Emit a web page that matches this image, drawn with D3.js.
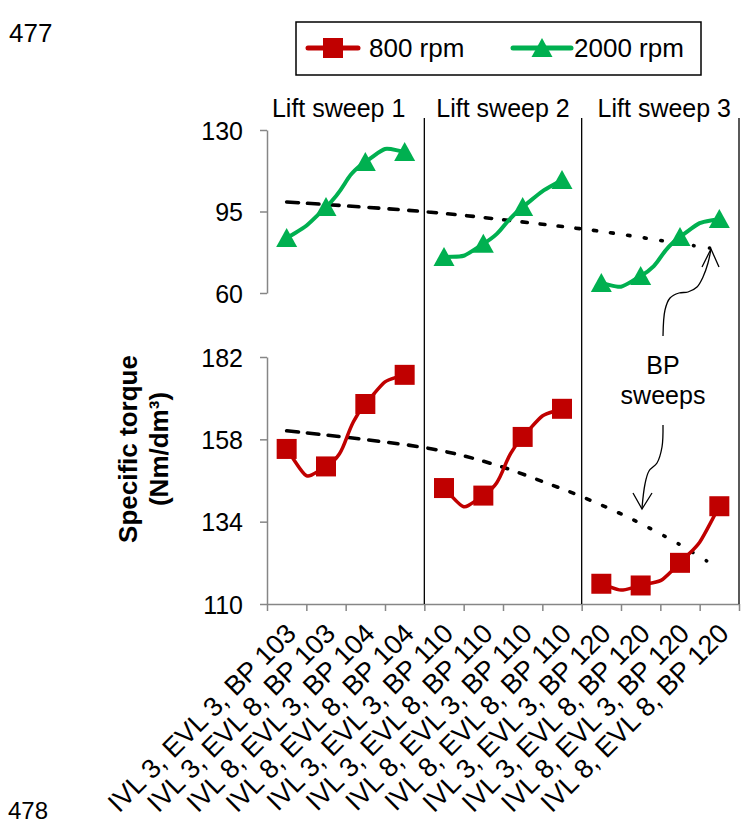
<!doctype html>
<html>
<head>
<meta charset="UTF-8">
<title>Specific torque - lift and BP sweeps</title>
<script src="https://d3js.org/d3.v7.min.js"></script>
<style>
body{margin:0;background:#fff;}
svg text{font-family:"Liberation Sans",Arial,sans-serif;fill:#000;}
</style>
</head>
<body>
<svg id="chart" width="743" height="826"></svg>
<script>
// categories (x axis)
var cats = ["IVL 3, EVL 3, BP 103","IVL 3, EVL 8, BP 103","IVL 8, EVL 3, BP 104","IVL 8, EVL 8, BP 104",
            "IVL 3, EVL 3, BP 110","IVL 3, EVL 8, BP 110","IVL 8, EVL 3, BP 110","IVL 8, EVL 8, BP 110",
            "IVL 3, EVL 3, BP 120","IVL 3, EVL 8, BP 120","IVL 8, EVL 3, BP 120","IVL 8, EVL 8, BP 120"];
var sweeps = ["Lift sweep 1","Lift sweep 2","Lift sweep 3"];

// series, Nm/dm3
var rpm800  = [155.2,150.1,168.3,176.8, 143.8,141.6,158.7,166.9, 115.9,115.4,122.0,138.5];
var rpm2000 = [83.6,96.9,116.3,120.6, 75.5,81.1,96.9,108.5, 64.3,67.3,84.1,91.8];

var ticksTop = [60,95,130];
var ticksBot = [110,134,158,182];

// BP sweep trend (dashed), x as category position
var trendTopX = [0,3.6,5.8,8.1,9.9,10.75];
var trendTopY = [99.1,94.8,90.9,86.2,81.5,79.3];
var trendBotX = [0,3.7,5.3,6.6,7.5,8.75,9.95,10.7];
var trendBotY = [160.5,155.2,150.6,145.3,141.3,134.9,127.6,122.4];

var red = "#C00000", green = "#00B050", grey = "#868686";
var svg = d3.select("#chart");

var x = d3.scaleLinear().domain([-0.5, 11.5]).range([267, 739]);
var yTop = d3.scaleLinear().domain([60,130]).range([293,130]);
var yBot = d3.scaleLinear().domain([110,182]).range([604,357]);

// page numbers
svg.append("text").attr("x",9).attr("y",42).attr("font-size",26).attr("fill","#222").text("477");
svg.append("text").attr("x",8).attr("y",819).attr("font-size",24).attr("fill","#222").text("478");

// legend
var lg = svg.append("g");
lg.append("rect").attr("x",296).attr("y",22).attr("width",405).attr("height",53)
  .attr("fill","#fff").attr("stroke","#000").attr("stroke-width",1.5);
lg.append("line").attr("x1",308).attr("x2",358).attr("y1",48).attr("y2",48)
  .attr("stroke",red).attr("stroke-width",5).attr("stroke-linecap","round");
lg.append("rect").attr("x",323).attr("y",38).attr("width",20).attr("height",20).attr("fill",red);
lg.append("text").attr("x",369).attr("y",57).attr("font-size",26).text("800 rpm");
lg.append("line").attr("x1",513).attr("x2",571).attr("y1",48).attr("y2",48)
  .attr("stroke",green).attr("stroke-width",5).attr("stroke-linecap","round");
lg.append("path").attr("d","M542,38L552.5,57L531.5,57Z").attr("fill",green);
lg.append("text").attr("x",574).attr("y",57).attr("font-size",26).text("2000 rpm");

// y axes
function yAxis(scale, vals){
  var g = svg.append("g").attr("transform","translate("+x(-0.5)+",0)")
    .call(d3.axisLeft(scale).tickValues(vals).tickSize(7).tickSizeOuter(0).tickPadding(17));
  g.attr("font-size",25).attr("font-family","'Liberation Sans',Arial,sans-serif");
  g.select(".domain").attr("stroke",grey).attr("stroke-width",1.5);
  g.selectAll(".tick line").attr("stroke",grey).attr("stroke-width",1.5);
  g.selectAll(".tick text").attr("fill","#000").attr("dy","0.36em");
}
yAxis(yTop, ticksTop);
yAxis(yBot, ticksBot);

// x axis, ticks between categories
var xg = svg.append("g").attr("transform","translate(0,604)")
  .call(d3.axisBottom(x).tickValues(d3.range(-0.5,12,1)).tickSize(7).tickSizeOuter(0).tickFormat(""));
xg.select(".domain").attr("stroke",grey).attr("stroke-width",1.5);
xg.selectAll(".tick line").attr("stroke",grey).attr("stroke-width",1.5);

svg.append("g").selectAll("text").data(cats).enter().append("text")
  .attr("transform",function(d,i){return "translate("+(x(i)+11)+",635) rotate(-45)";})
  .attr("text-anchor","end").attr("font-size",27).text(function(d){return d;});

// sweep separators
svg.append("g").selectAll("line").data([3.5,7.5,11.5]).enter().append("line")
  .attr("x1",function(d){return x(d);}).attr("x2",function(d){return x(d);})
  .attr("y1",118).attr("y2",604).attr("stroke","#000").attr("stroke-width",1.3);

svg.append("g").selectAll("text").data(sweeps).enter().append("text")
  .attr("x",function(d,i){return x(1.5+4*i)+[-7,0,4][i];}).attr("y",117)
  .attr("text-anchor","middle").attr("font-size",25).text(function(d){return d;});

// y title
var yt = svg.append("g").attr("font-weight","bold").attr("font-size",26).attr("text-anchor","middle");
yt.append("text").attr("transform","translate(137,449) rotate(-90)").text("Specific torque");
yt.append("text").attr("transform","translate(168,449) rotate(-90)").text("(Nm/dm³)");

// dashed trend with dashes shrinking to dots
function trend(xs, ys, scale){
  var pts = xs.map(function(v,i){return [x(v), scale(ys[i])];});
  var p = svg.append("path").attr("d", d3.line().curve(d3.curveCatmullRom)(pts))
    .attr("fill","none").attr("stroke","#000").attr("stroke-width",3.6).attr("stroke-linecap","round");
  var L = p.node().getTotalLength(), pos = 0, arr = [];
  while(pos < L){
    var f = pos/L, dash = Math.max(0.5, 12 - 12*f), gap = 9 + 7*f;
    arr.push(dash, gap); pos += dash + gap;
  }
  p.attr("stroke-dasharray", arr.join(","));
}
trend(trendTopX, trendTopY, yTop);
trend(trendBotX, trendBotY, yBot);

// smoothed lines, one piece per lift sweep
function series(vals, scale, color, w){
  for(var s=0; s<3; s++){
    var pts = [];
    for(var i=4*s; i<4*s+4; i++) pts.push([x(i), scale(vals[i])]);
    var a = pts[0], b = pts[1], c = pts[2];
    var ph0 = [3*a[0]-3*b[0]+c[0], 3*a[1]-3*b[1]+c[1]];
    var e = pts[3], f = pts[2], g = pts[1];
    var ph1 = [3*e[0]-3*f[0]+g[0], 3*e[1]-3*f[1]+g[1]];
    svg.append("path").attr("d", d3.line().curve(d3.curveCardinalOpen.tension(-0.8))([ph0].concat(pts,[ph1])))
      .attr("fill","none").attr("stroke",color).attr("stroke-width",w);
  }
}
series(rpm800, yBot, red, 3.5);
series(rpm2000, yTop, green, 4);

svg.append("g").selectAll("rect").data(rpm800).enter().append("rect")
  .attr("x",function(d,i){return x(i)-10;}).attr("y",function(d){return yBot(d)-10;})
  .attr("width",20).attr("height",20).attr("fill",red);
svg.append("g").selectAll("path").data(rpm2000).enter().append("path")
  .attr("d",function(d,i){var cx=x(i), cy=yTop(d);
    return "M"+cx+","+(cy-10)+"L"+(cx+10.5)+","+(cy+9)+"L"+(cx-10.5)+","+(cy+9)+"Z";})
  .attr("fill",green);

// BP sweeps annotation
var an = svg.append("g");
an.append("text").attr("x",663).attr("y",374).attr("text-anchor","middle").attr("font-size",25).text("BP");
an.append("text").attr("x",663).attr("y",404).attr("text-anchor","middle").attr("font-size",25).text("sweeps");
var up = [[663,336],[665,310],[670,298],[679,293],[688,292],[697,287],[703,277],[708,263],[711,249]];
var down = [[663,425],[662,447],[657,463],[649,471],[645,484],[642,508]];
[up, down].forEach(function(p){
  an.append("path").attr("d", d3.line().curve(d3.curveCatmullRom)(p))
    .attr("fill","none").attr("stroke","#000").attr("stroke-width",1.3);
});
an.append("path").attr("d","M702,267L711,249L719,267").attr("fill","none").attr("stroke","#000").attr("stroke-width",1.3);
an.append("path").attr("d","M633,493L642,509L652,493").attr("fill","none").attr("stroke","#000").attr("stroke-width",1.3);
</script>
</body>
</html>
